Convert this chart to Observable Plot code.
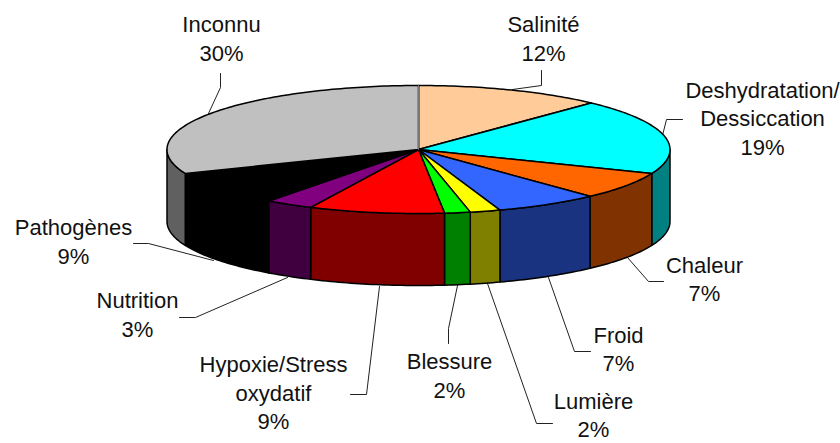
<!DOCTYPE html>
<html>
<head>
<meta charset="utf-8">
<script src="https://cdn.jsdelivr.net/npm/d3@7"></script>
<script src="https://cdn.jsdelivr.net/npm/@observablehq/plot@0.6"></script>
<style>html,body{margin:0;padding:0;background:#fff}svg{display:block}</style>
</head>
<body>
<div id="chart"></div>
<script>
// Data
const names = ["Salinité","Deshydratation/\nDessiccation","Chaleur","Froid","Lumière","Blessure","Hypoxie/Stress\noxydatif","Nutrition","Pathogènes","Inconnu"];
const percents = [12,19,7,7,2,2,9,3,9,30];            // as printed on the labels
const shares = [12.05,19.05,6.95,6.7,1.95,1.65,8.7,3.1,8.75,31.1];
const topColors = ["#ffcc99","#00ffff","#ff6600","#3366ff","#ffff00","#00ff00","#ff0000","#800080","#000000","#c0c0c0"];
const sideColors = ["#806650","#008080","#803300","#1a3380","#808000","#008000","#800000","#400040","#000000","#606060"];

// Layout of the annotation (pixels of the picture)
const labelX = [543,762,704,618,593,449,273,137,73,221];
const labelY = [37,116.5,277.5,347.5,413.5,374,391,313,240,37];
const leaders = [
  [[541,70],[541,85],[512,89]],
  [[682,119],[666,119],[662,135]],
  [[663,281],[648,281],[627,257]],
  [[590,351],[574,351],[548,277]],
  [[552,423],[536,423],[487,283]],
  [[448,343],[448,328],[457,285]],
  [[350,394],[366,394],[379,286]],
  [[179,317],[195,317],[287,277]],
  [[133,243],[148,243],[213,260]],
  [[220,73],[220,87],[208,113]]
];
const cx = 418, cy = 149, rx = 251.5, ry = 64, depth = 72;

const total = d3.sum(shares);
let acc = 0;
const slices = shares.map((p, i) => {
  const a0 = acc / total * 360; acc += p; const a1 = acc / total * 360;
  return {i, a0, a1};
});
const rim = (deg, dy = 0) => {
  const t = deg * Math.PI / 180;
  return {x: cx + rx * Math.sin(t), y: cy - ry * Math.cos(t) + dy};
};
const arcAngles = (a0, a1) => {
  const out = [];
  const n = Math.max(2, Math.ceil(a1 - a0));
  for (let k = 0; k <= n; k++) out.push(a0 + (a1 - a0) * k / n);
  return out;
};
const sidePts = [];
const topPts = [];
for (const s of slices) {
  const lo = Math.max(s.a0, 90), hi = Math.min(s.a1, 270);
  if (hi > lo) {
    const ang = arcAngles(lo, hi);
    const pts = [...ang.map(a => rim(a)), ...ang.slice().reverse().map(a => rim(a, depth))];
    pts.push(pts[0]);
    pts.forEach(p => sidePts.push({...p, key: s.i, color: sideColors[s.i]}));
  }
  const pts = [{x: cx, y: cy}, ...arcAngles(s.a0, s.a1).map(a => rim(a)), {x: cx, y: cy}];
  pts.forEach(p => topPts.push({...p, key: s.i, color: topColors[s.i]}));
}
const leaderPts = leaders.flatMap((l, i) => l.map(([x, y]) => ({x, y, key: i})));
const labels = names.map((n, i) => ({text: `${n}\n${percents[i]}%`, x: labelX[i], y: labelY[i]}));

const chart = Plot.plot({
  width: 840, height: 443,
  margin: 0,
  x: {domain: [0, 840], range: [0, 840], axis: null},
  y: {domain: [0, 443], range: [0, 443], axis: null},
  color: {type: "identity"},
  style: {background: "#fff"},
  marks: [
    Plot.line(leaderPts, {x: "x", y: "y", z: "key", stroke: "#222", strokeWidth: 1}),
    Plot.line(sidePts, {x: "x", y: "y", z: "key", fill: "color", stroke: "#000", strokeWidth: 1.5, strokeLinejoin: "round"}),
    Plot.line(topPts, {x: "x", y: "y", z: "key", fill: "color", stroke: "#000", strokeWidth: 1.5, strokeLinejoin: "round"}),
    Plot.line([{x: cx, y: cy}, rim(0)], {x: "x", y: "y", stroke: "#777", strokeWidth: 1}),
    Plot.text(labels, {x: "x", y: "y", text: "text", lineHeight: 1.3, lineAnchor: "middle", textAnchor: "middle",
      fontFamily: "Liberation Sans", fontSize: 22, fill: "#111"})
  ]
});
document.getElementById("chart").append(chart);
</script>
</body>
</html>
